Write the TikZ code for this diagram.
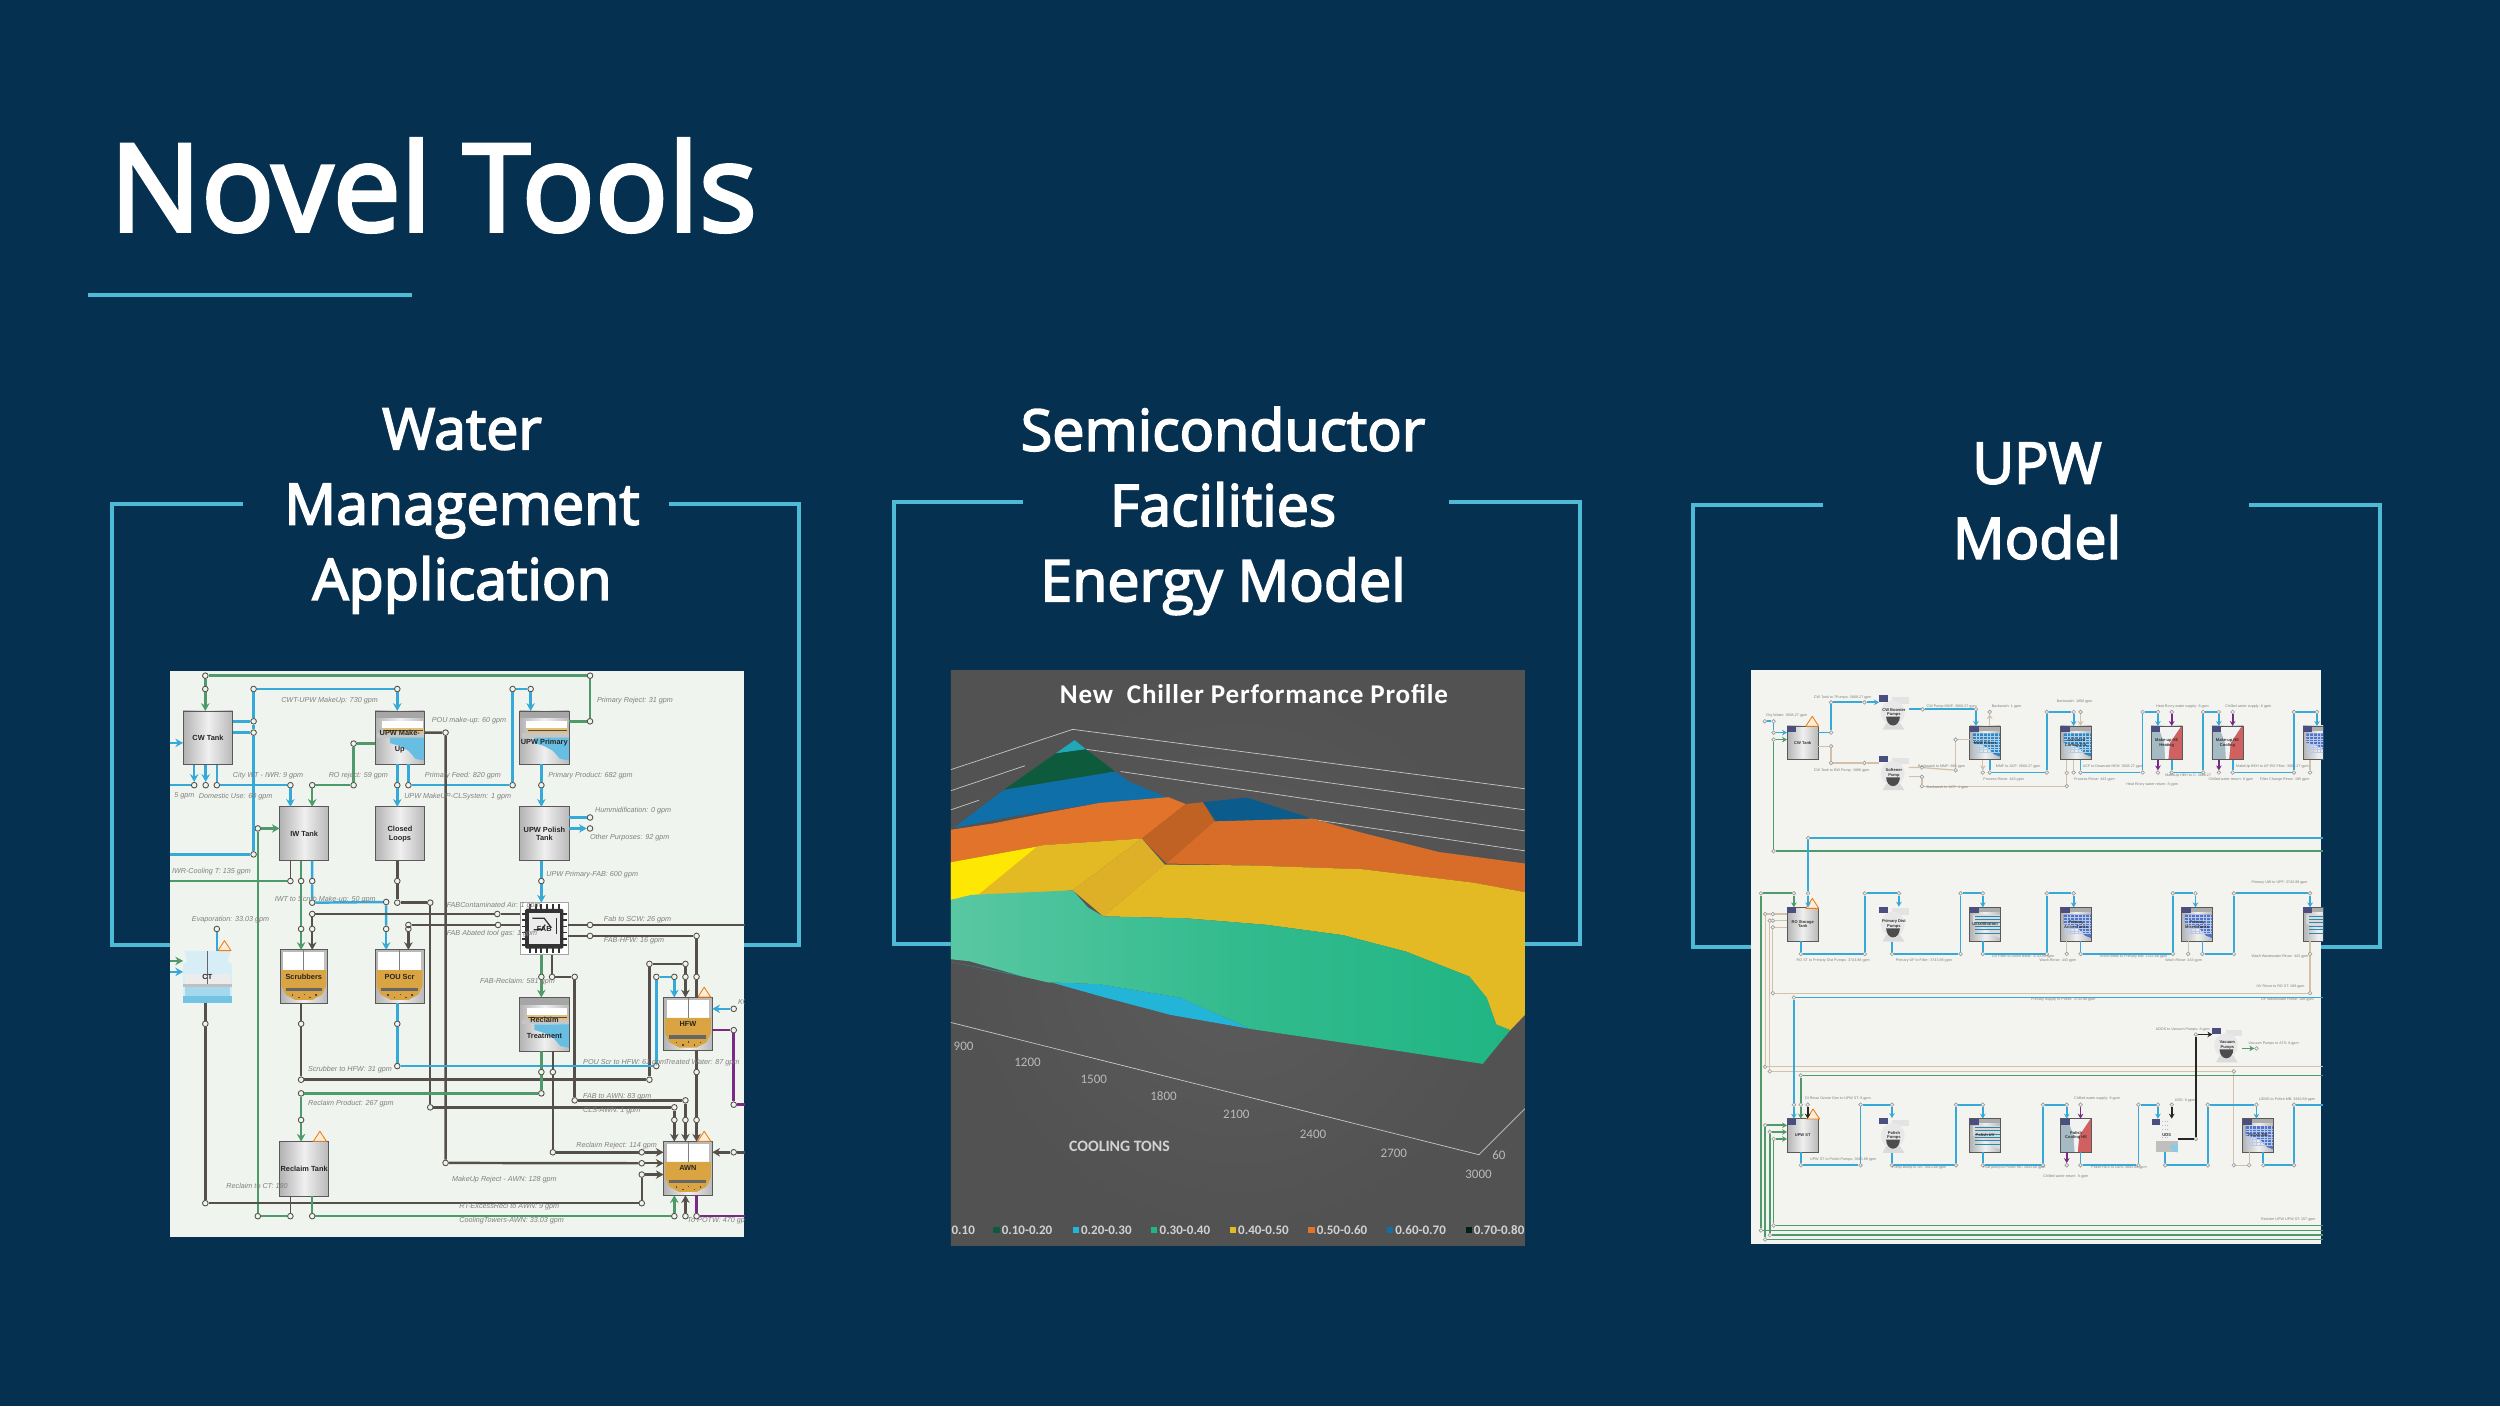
\documentclass[tikz,border=0pt]{standalone}
\usepackage{fontspec}
\usetikzlibrary{arrows.meta,calc}
\setmainfont{Open Sans}
\newfontfamily\headfont{Open Sans}[FakeBold=3]
\newfontfamily\lblfont{Liberation Sans}
\newfontfamily\chartfont{Carlito}
\newfontfamily\charttitlefont{Carlito}[LetterSpace=3]
\definecolor{slideBg}{HTML}{06304F}
\definecolor{frameCol}{HTML}{4FBAD6}
\definecolor{sheetA}{HTML}{F0F4EE}
\definecolor{sheetC}{HTML}{F3F4EF}
\definecolor{pipeBlue}{HTML}{35A9D8}
\definecolor{pipeGreen}{HTML}{4F9A6A}
\definecolor{pipeDark}{HTML}{55504A}
\definecolor{pipeTan}{HTML}{D4BFA8}
\definecolor{pipePurple}{HTML}{7A2A86}
\definecolor{sludge}{HTML}{D9A441}
\definecolor{tagCol}{HTML}{4B4F80}
\definecolor{gridBlue}{HTML}{2F86C4}
\definecolor{gridIndigo}{HTML}{4F74C8}
\definecolor{chTeal}{HTML}{1FA8B8}
\definecolor{chDeep}{HTML}{0E5A3C}
\definecolor{chBlue}{HTML}{0F6FA8}
\definecolor{chNavy}{HTML}{0B5C8C}
\definecolor{chOrange}{HTML}{E2732A}
\definecolor{chYellow}{HTML}{E3B924}
\definecolor{chGreen}{HTML}{21B584}
\definecolor{chCyan}{HTML}{22B5D8}
\tikzset{
  frameln/.style={line width=1.2pt, frameCol},
  ruleln/.style={line width=1.4pt, frameCol},
  heading/.style={white, font=\headfont\fontsize{16.3}{21.4}\selectfont, align=center},
  pblue/.style={draw=pipeBlue},
  pgreen/.style={draw=pipeGreen},
  pdark/.style={draw=pipeDark},
  ppurple/.style={draw=pipePurple},
  ptan/.style={draw=pipeTan, line width=0.35pt},
  pblack/.style={draw=black!85},
  arr/.style={-{Stealth[length=2.2pt,width=2.4pt]}},
  arrsm/.style={-{Stealth[length=1.4pt,width=1.6pt]}},
  portA/.style={circle, draw=pipeDark, fill=sheetA, line width=0.25pt, minimum size=1.6pt, inner sep=0pt},
  portC/.style={circle, draw=gray!80, fill=sheetC, line width=0.18pt, minimum size=1.05pt, inner sep=0pt},
  lblA/.style={anchor=west, inner sep=0pt, text=black!50, font=\lblfont\itshape\fontsize{2.05}{2.4}\selectfont},
  lblC/.style={anchor=west, inner sep=0pt, text=black!50, font=\lblfont\fontsize{1.05}{1.3}\selectfont},
  tankbody/.style={left color=gray!60, right color=gray!55, middle color=gray!12},
  chipbody/.style={fill=white},
  bare/.style={},
  tankedge/.style={draw=gray!70!black, line width=0.25pt},
  nameA/.style={inner sep=0pt, outer sep=0pt, align=center, text=black!85, font=\lblfont\bfseries\fontsize{2.1}{2.5}\selectfont},
  nameC/.style={inner sep=0pt, outer sep=0pt, align=center, text=black!80, font=\lblfont\bfseries\fontsize{1.15}{1.4}\selectfont},
  warn/.style={draw=orange!70!brown, fill=orange!15, line width=0.25pt, line join=round},
  axislbl/.style={text=gray!55, font=\chartfont\fontsize{3.7}{4.4}\selectfont},
  legendlbl/.style={anchor=west, inner sep=0pt, text=gray!35, font=\chartfont\bfseries\fontsize{3.7}{4.2}\selectfont},
  wall/.style={gray!45,line width=0.2pt},
}
% body, decoration in a 0..100 box, then the named node with the text on top
\newcommand{\tanknode}[8]{%
  \pgfmathsetmacro\boxw{(#4-#2)}%
  \pgfmathsetmacro\boxh{(#5-#3)}%
  \path[#6] (#2,#3) rectangle (#4,#5);
  \begin{scope}[shift={(#2,#3)},xscale=\boxw/100,yscale=\boxh/100]#7\end{scope}
  \pgfmathsetmacro\boxw{(#4-#2)*\ux}%
  \pgfmathsetmacro\boxh{(#5-#3)*\uy}%
  \node[tanklbl, minimum width=\boxw cm, minimum height=\boxh cm] (#1) at ({(#2+#4)/2},{(#3+#5)/2}) {#8};
}
\newcommand{\ux}{0.003827}
\newcommand{\uy}{0.003333}
\newcommand{\decEdge}{\draw[tankedge] (0,0) rectangle (100,100);}
\newcommand{\decMembrane}{
  \fill[gray!70] (0,0) rectangle (100,14);
  \fill[white] (14,19) rectangle (96,32);
  \fill[sludge!70] (16,32) rectangle (98,42);
  \fill[gray!60!black] (18,36) rectangle (96,38);
  \fill[gray!45] (4,42) rectangle (100,50);
  \fill[pipeBlue!75] (30,50) -- (100,50) -- (100,93) -- (82,90) -- (68,75) -- (50,66) -- (30,60) -- cycle;
  \decEdge
}
\newcommand{\decSump}{
  \fill[gray!55] (0,0) rectangle (100,4);
  \fill[white] (7,4) rectangle (93,38);
  \draw[gray,line width=0.2pt] (50,0) -- (50,38);
  \fill[sludge] (3,38) -- (97,38) -- (97,68) -- (88,84) -- (68,94) -- (32,94) -- (12,84) -- (3,68) -- cycle;
  \fill[black!60] (12,71) rectangle (88,77);
  \foreach \a/\b in {25/83,38/88,50/82,62/88,74/83} \fill[black!70] (\a,\b) rectangle +(3,3);
  \decEdge
}
\newcommand{\decTower}{
  \fill[pipeBlue!20] (3,0) -- (97,0) -- (92,22) -- (100,25) -- (100,100) -- (0,100) -- (0,25) -- (8,22) -- cycle;
  \fill[white!85!gray] (3,45) rectangle (97,65);
  \fill[gray!50] (0,65) rectangle (100,70);
  \fill[pipeBlue!45] (3,70) rectangle (97,88);
  \fill[pipeBlue!70] (0,88) rectangle (100,100);
  \draw[gray!80!black,line width=0.2pt] (50,0) -- (50,65);
}
\newcommand{\decChip}{
  \fill[black!80,rounded corners=0.4pt] (10,12) rectangle (90,88);
  \foreach \a in {18,30,42,54,66,78} {
    \fill[black!80] (\a,3) rectangle (\a+4,14);
    \fill[black!80] (\a,86) rectangle (\a+4,97);
  }
  \foreach \b in {20,32,44,56,68,80} {
    \fill[black!80] (3,\b) rectangle (12,\b+3);
    \fill[black!80] (88,\b) rectangle (97,\b+3);
  }
  \fill[white!85!gray] (18,20) rectangle (82,80);
  \draw[black!80,line width=0.35pt] (25,30) -- (50,30) -- (65,48);
  \draw[black!80,line width=0.35pt] (28,52) -- (45,52) -- (52,42);
  \draw[black!80,line width=0.35pt] (75,30) -- (75,60);
  \draw[gray!70,line width=0.3pt] (0,0) rectangle (100,100);
}
\newcommand{\dectag}{\fill[tagCol] (0,0) rectangle (30,18);}
\newcommand{\decPlainC}{\decEdge\dectag}
\newcommand{\decFilter}[1]{
  \fill[gray!65] (0,0) rectangle (100,14);
  \fill[#1] (10,22) -- (100,22) -- (100,92) -- (78,84) -- (60,66) -- (35,55) -- (10,50) -- cycle;
  \foreach \a in {20,32,44,56,68,80,92} \draw[white!60!#1,line width=0.12pt] (\a,22) -- (\a,80);
  \foreach \b in {30,38,46,54,62,70,78} \draw[white!60!#1,line width=0.12pt] (10,\b) -- (100,\b);
  \decEdge\dectag
}
\newcommand{\decStripes}{
  \fill[gray!65] (0,0) rectangle (100,14);
  \fill[gray!30] (10,22) -- (100,22) -- (100,92) -- (78,84) -- (60,66) -- (35,55) -- (10,50) -- cycle;
  \foreach \b in {26,36,46,56,66,78} \draw[pipeBlue!80!black,line width=0.25pt] (18,\b) -- (100,\b);
  \decEdge\dectag
}
\newcommand{\decHeat}{
  \fill[pipeBlue!30!gray!60] (0,0) rectangle (100,100);
  \fill[red!55!gray!80] (55,100) -- (60,50) -- (96,0) -- (100,0) -- (100,100) -- cycle;
  \fill[white!90!gray] (22,0) -- (96,0) -- (60,50) -- (55,100) -- (45,100) -- (42,50) -- cycle;
  \decEdge\dectag
}
\newcommand{\decPump}{
  \fill[gray!22] (45,5) rectangle (100,24);
  \fill[gray!18] (46,50) ellipse [x radius=40,y radius=36];
  \fill[gray!28] (25,80) -- (70,80) -- (85,100) -- (12,100) -- cycle;
  \fill[black!70] (24,62) arc[start angle=180,end angle=0,x radius=23,y radius=26] -- cycle;
  \dectag
}
\newcommand{\decUV}{
  \fill[gray!10] (20,0) rectangle (65,62);
  \foreach \a in {28,40,52} \foreach \b in {8,20,32,44,56} \fill[gray!55] (\a,\b) rectangle +(3,2);
  \fill[gray!50] (0,65) rectangle (100,100);
  \fill[pipeBlue!60] (62,78) -- (100,78) -- (100,100) -- (80,98) -- cycle;
  \fill[tagCol] (-18,0) rectangle (18,18);
}
\newcommand{\warnsign}[2]{%
  \draw[warn,shift={(#1,#2)}] (-17,15) -- (0,-15) -- (17,15) -- cycle;
}
\begin{document}
\begin{tikzpicture}[x=0.01cm,y=-0.01cm]
  \useasboundingbox (0,0) rectangle (2500,1406);
  \fill[slideBg] (0,0) rectangle (2500,1406);
  % title and its rule
  \node[anchor=base west, inner sep=0pt, white, font=\headfont\fontsize{34.5}{40}\selectfont] (title) at (109,231) {Novel Tools};
  \coordinate (ruleL) at (88,295);
  \coordinate (ruleR) at (412,295);
  \draw[ruleln] (ruleL) -- (ruleR);
  % headings
  \node[heading] (headA) at (462,511) {Water\\Management\\Application};
  \node[heading] (headB) at (1223,511) {Semiconductor\\Facilities\\Energy Model};
  \node[heading] (headC) at (2037,501) {UPW\\Model};
  % brackets behind the pictures
  \draw[frameln] (243,504) -| (112,945) -| (799,504) -- (669,504);
  \draw[frameln] (1023,502) -| (894,944) -| (1580,502) -- (1449,502);
  \draw[frameln] (1823,505) -| (1693,947) -| (2380,505) -- (2249,505);

  % ---------- water management flowsheet ----------
  \fill[sheetA] (170,671) rectangle (744,1237);
  \begin{scope}[shift={(1.6cm,-6.6cm)},x=0.003827cm,y=-0.003333cm,line width=0.7pt,tanklbl/.style={nameA}]
    \clip (26,30) rectangle (1526,1732);
    \coordinate (edgeL) at (26,0);
    \coordinate (edgeR) at (1526,0);
    % tanks
    \tanknode{cwtank}{60}{152}{190}{314}{tankbody}{\decEdge}{CW Tank}
    \tanknode{upwmake}{561}{152}{690}{312}{tankbody}{\decMembrane}{\raisebox{-3.9pt}[0pt][0pt]{\shortstack{UPW Make-\\Up}}}
    \tanknode{upwprim}{938}{152}{1067}{312}{tankbody}{\decMembrane}{\raisebox{-2pt}[0pt][0pt]{UPW Primary}}
    \tanknode{iwtank}{312}{440}{440}{602}{tankbody}{\decEdge}{IW Tank}
    \tanknode{closedl}{561}{440}{691}{602}{tankbody}{\decEdge}{Closed\\Loops}
    \tanknode{polish}{938}{440}{1068}{602}{tankbody}{\decEdge}{UPW Polish\\Tank}
    \tanknode{fab}{940}{728}{1065}{885}{chipbody}{\decChip}{FAB}
    \tanknode{ct}{60}{873}{187}{1028}{bare}{\decTower}{CT}
    \tanknode{scrub}{313}{870}{437}{1030}{tankbody}{\decSump}{Scrubbers}
    \tanknode{pouscr}{561}{870}{689}{1030}{tankbody}{\decSump}{POU Scr}
    \tanknode{reclaimt}{938}{1013}{1068}{1175}{tankbody}{\decMembrane}{\raisebox{-3.9pt}[0pt][0pt]{\shortstack{Reclaim\\Treatment}}}
    \tanknode{hfw}{1314}{1013}{1441}{1173}{tankbody}{\decSump}{HFW}
    \tanknode{awn}{1314}{1446}{1441}{1607}{tankbody}{\decSump}{AWN}
    \tanknode{rectank}{312}{1446}{440}{1610}{tankbody}{\decEdge}{Reclaim Tank}
    \warnsign{168}{857}
    \warnsign{417}{1430}
    \warnsign{1420}{997}
    \warnsign{1420}{1430}
    % ports
    \foreach \x/\y in {118/46,1122/46,118/86,244/86,619/86,244/183,244/217,244/583,1122/183,
      89/375,119/375,148/375,340/375,397/375,505/375,505/250,619/375,648/375,920/375,920/86,967/86,
      995/375,745/217,745/1510,1122/472,1122/505,995/663,340/663,368/663,397/663,619/663,619/728,
      705/728,397/728,590/726,368/807,397/807,590/807,648/807,397/762,880/762,648/795,882/795,
      1122/795,1122/828,1400/828,255/505,255/1670,340/1670,148/807,118/1092,118/1631,1257/1631,
      1257/1545,368/1092,368/1260,1277/1260,1277/912,1371/912,1371/951,1342/951,1400/951,619/1092,
      619/1219,1295/1219,1295/951,995/951,1023/951,1082/951,1082/1322,1371/1322,1371/1381,995/1237,
      995/1301,368/1301,368/1381,1025/1237,1025/1478,1257/1478,1257/1511,705/1343,1342/1343,1342/1381,
      1400/1237,1400/1381,397/1670,1342/1670,1371/1670,1400/1670,1497/1111,1497/1335,1497/1047,1497/1478}
      \node[portA] (p\x x\y) at (\x,\y) {};
    % cw tank
    \coordinate (cwin) at (26,248);
    \draw[pblue,arr] (cwin) -- (cwin -| cwtank.west);
    \draw[pgreen] (p118x46) -- (p1122x46) -- (p1122x183) -- (p1122x183 -| upwprim.east);
    \draw[pgreen] (p118x46) -- (p118x86);
    \draw[pgreen,arr] (p118x86) -- (p118x86 |- cwtank.north);
    \draw[pblue] (p244x86) -- (p619x86);
    \draw[pblue,arr] (p619x86) -- (p619x86 |- upwmake.north);
    \draw[pblue] (p244x86) -- (p244x183) -- (p244x217) -- (p244x583) -- (p244x583 -| edgeL);
    \draw[pblue] (p244x183 -| cwtank.east) -- (p244x183);
    \draw[pblue] (p244x217 -| cwtank.east) -- (p244x217);
    \draw[pblue] (p89x375 -| edgeL) -- (p89x375);
    \draw[pblue,arr] (p89x375 |- cwtank.south) -- (p89x375);
    \draw[pblue,arr] (p119x375 |- cwtank.south) -- (p119x375);
    \draw[pblue] (p148x375 |- cwtank.south) -- (p148x375) -- (p340x375);
    \draw[pblue,arr] (p340x375) -- (p340x375 |- iwtank.north);
    % make-up and primary
    \draw[pgreen,arr] (p397x375) -- (p397x375 |- iwtank.north);
    \draw[pgreen] (p397x375) -- (p505x375) -- (p505x250) -- (p505x250 -| upwmake.west);
    \draw[pblue] (p619x375 |- upwmake.south) -- (p619x375);
    \draw[pblue,arr] (p619x375) -- (p619x375 |- closedl.north);
    \draw[pblue] (p648x375 |- upwmake.south) -- (p648x375) -- (p920x375) -- (p920x86) -- (p967x86);
    \draw[pblue,arr] (p967x86) -- (p967x86 |- upwprim.north);
    \draw[pdark] (p745x217 -| upwmake.east) -- (p745x217) -- (p745x1510) -- (p1257x1511);
    \draw[pdark,arr] (p1257x1511) -- (p1257x1511 -| awn.west);
    \draw[pblue] (p995x375 |- upwprim.south) -- (p995x375);
    \draw[pblue,arr] (p995x375) -- (p995x375 |- polish.north);
    % polish
    \draw[pblue] (p1122x472 -| polish.east) -- (p1122x472);
    \draw[pblue,arr] (p1122x505 -| polish.east) -- (p1122x505);
    \draw[pblue] (p995x663 |- polish.south) -- (p995x663);
    \draw[pblue,arr] (p995x663) -- (p995x663 |- fab.north);
    % closed loops and iw tank
    \draw[pdark] (p619x663 |- closedl.south) -- (p619x663) -- (p619x728) -- (p705x728) -- (p705x1343) -- (p1342x1343) -- (p1342x1381);
    \draw[pdark,arr] (p1342x1381) -- (p1342x1381 |- awn.north);
    \draw[pdark,line width=0.3pt] (p340x663 |- iwtank.south) -- (p340x663);
    \draw[pgreen] (p340x663 -| edgeL) -- (p340x663);
    \draw[pgreen] (p368x663 |- iwtank.south) -- (p368x663) -- (p368x807);
    \draw[pgreen,arr] (p368x807) -- (p368x807 |- scrub.north);
    \draw[pblue] (p397x663 |- iwtank.south) -- (p397x663) -- (p397x728) -- (p590x726) -- (p590x807);
    \draw[pblue,arr] (p590x807) -- (p590x807 |- pouscr.north);
    % fab
    \draw[pdark] (p880x762 -| fab.west) -- (p880x762) -- (p397x762) -- (p397x807);
    \draw[pdark,arr] (p397x807) -- (p397x807 |- scrub.north);
    \draw[pdark] (p882x795 -| fab.west) -- (p882x795) -- (p648x795) -- (p648x807);
    \draw[pdark,arr] (p648x807) -- (p648x807 |- pouscr.north);
    \draw[pdark] (p1122x795 -| fab.east) -- (p1122x795) -- (p1122x795 -| edgeR);
    \draw[pdark] (p1122x828 -| fab.east) -- (p1122x828) -- (p1400x828) -- (p1400x951);
    \draw[pdark] (p1400x951) -- (p1400x951 |- hfw.north);
    \draw[pgreen] (p995x951 |- fab.south) -- (p995x951);
    \draw[pgreen,arr] (p995x951) -- (p995x951 |- reclaimt.north);
    \draw[pdark] (p1023x951 |- fab.south) -- (p1023x951) -- (p1082x951) -- (p1082x1322) -- (p1371x1322) -- (p1371x1381);
    \draw[pdark,arr] (p1371x1381) -- (p1371x1381 |- awn.north);
    % makeup feed to cooling tower and iw
    \draw[pgreen] (p255x505) -- (p255x1670) -- (p340x1670);
    \draw[pgreen,arr] (p255x505) -- (p255x505 -| iwtank.west);
    \draw[pdark,line width=0.3pt] (p340x1670) -- (p340x1670 |- rectank.south);
    \draw[pblue] (p148x807) -- (p148x807 |- ct.north);
    \coordinate (ctgin) at (26,903);
    \coordinate (ctbin) at (26,936);
    \draw[pgreen,arr] (ctgin) -- (ctgin -| ct.west);
    \draw[pblue,arr] (ctbin) -- (ctbin -| ct.west);
    % bottom of the sumps
    \draw[pdark] (p118x1092 |- ct.south) -- (p118x1092) -- (p118x1631) -- (p1257x1631) -- (p1257x1545);
    \draw[pdark,arr] (p1257x1545) -- (p1257x1545 -| awn.west);
    \draw[pdark] (p368x1092 |- scrub.south) -- (p368x1092) -- (p368x1260) -- (p1277x1260) -- (p1277x912) -- (p1371x912) -- (p1371x951);
    \draw[pdark,arr] (p1371x951) -- (p1371x951 |- hfw.north);
    \draw[pblue] (p619x1092 |- pouscr.south) -- (p619x1092) -- (p619x1219) -- (p1295x1219) -- (p1295x951) -- (p1342x951);
    \draw[pblue,arr] (p1342x951) -- (p1342x951 |- hfw.north);
    % reclaim
    \draw[pgreen] (p995x1237 |- reclaimt.south) -- (p995x1237) -- (p995x1301) -- (p368x1301) -- (p368x1381);
    \draw[pgreen,arr] (p368x1381) -- (p368x1381 |- rectank.north);
    \draw[pdark] (p1025x1237 |- reclaimt.south) -- (p1025x1237) -- (p1025x1478) -- (p1257x1478);
    \draw[pdark,arr] (p1257x1478) -- (p1257x1478 -| awn.west);
    \draw[pgreen] (p397x1670 |- rectank.south) -- (p397x1670) -- (p1342x1670);
    \draw[pgreen,arr] (p1342x1670) -- (p1342x1670 |- awn.south);
    % hfw and awn
    \draw[pdark] (p1400x1237 |- hfw.south) -- (p1400x1237) -- (p1400x1381);
    \draw[pdark,arr] (p1400x1381) -- (p1400x1381 |- awn.north);
    \draw[pdark,arr] (p1371x1670) -- (p1371x1670 |- awn.south);
    \draw[ppurple] (p1400x1670 |- awn.south) -- (p1400x1670) -- (p1400x1670 -| edgeR);
    \draw[ppurple] (p1497x1111 -| hfw.east) -- (p1497x1111) -- (p1497x1335) -- (p1497x1335 -| edgeR);
    \draw[pblue,arr] (p1497x1047) -- (p1497x1047 -| hfw.east);
    \draw[pdark] (p1497x1478 -| edgeR) -- (p1497x1478);
    \draw[pdark,arr] (p1497x1478) -- (p1497x1478 -| awn.east);
    % labels
    \foreach \x/\y/\txt [count=\i] in {313/120/{CWT-UPW MakeUp: 730 gpm},1137/120/{Primary Reject: 31 gpm},
      706/182/{POU make-up: 60 gpm},187/347/{City WT - IWR: 9 gpm},437/347/{RO reject: 59 gpm},
      688/347/{Primary Feed: 820 gpm},1010/347/{Primary Product: 682 gpm},98/408/{Domestic Use: 60 gpm},
      34/408/{5 gpm},634/408/{UPW MakeUP-CLSystem: 1 gpm},1132/452/{Hummidification: 0 gpm},
      1119/533/{Other Purposes: 92 gpm},28/635/{IWR-Cooling T: 135 gpm},1005/643/{UPW Primary-FAB: 600 gpm},
      296/718/{IWT to Scrub Make-up: 50 gpm},745/738/{FABContaminated Air: 1 gpm},80/778/{Evaporation: 33.03 gpm},
      1155/778/{Fab to SCW: 26 gpm},745/820/{FAB Abated tool gas: 1 gpm},1155/842/{FAB-HFW: 16 gpm},
      832/965/{FAB-Reclaim: 581 gpm},1101/1210/{POU Scr to HFW: 61 gpm},1315/1210/{Treated Water: 87 gpm},
      383/1230/{Scrubber to HFW: 31 gpm},1101/1311/{FAB to AWN: 83 gpm},383/1333/{Reclaim Product: 267 gpm},
      1101/1354/{CLS-AWN: 1 gpm},1083/1457/{Reclaim Reject: 114 gpm},759/1559/{MakeUp Reject - AWN: 128 gpm},
      170/1580/{Reclaim to CT: 180},778/1642/{RT-ExcessRecl to AWN: 9 gpm},778/1683/{CoolingTowers-AWN: 33.03 gpm},
      1373/1683/{To POTW: 470 gpm},1505/1027/{KC}}
      \node[lblA] (lbla\i) at (\x,\y) {\txt};
  \end{scope}

  % ---------- chiller chart ----------
  \begin{scope}[shift={(9.4cm,-6.6cm)},x=0.003827cm,y=-0.003827cm]
    \clip (27,27) rectangle (1525,1528);
    \shade[inner color=gray!72!black, outer color=black!68] (27,27) rectangle (1525,1528);
    % back wall grid
    \draw[wall] (27,285) -- (345,180) -- (1525,335);
    \draw[wall] (27,340) -- (220,275);
    \draw[wall] (27,390) -- (100,365);
    \draw[wall] (380,232) -- (1525,390);
    \draw[wall] (470,290) -- (1525,445);
    \draw[wall] (700,375) -- (1525,497);
    % surface bands
    \fill[chTeal] (300,243) -- (350,208) -- (380,232) -- cycle;
    \fill[chDeep] (165,338) -- (300,243) -- (380,232) -- (455,290) -- cycle;
    \fill[chBlue] (35,437) -- (165,338) -- (455,290) -- (495,318) -- (590,357) -- (415,372) -- (200,405) -- cycle;
    \fill[chOrange] (27,442) -- (140,425) -- (280,397) -- (415,372) -- (595,357) -- (640,375) -- (525,465) -- (270,482) -- (27,527) -- cycle;
    \fill[chOrange!85!black] (525,465) -- (640,375) -- (685,370) -- (715,420) -- (590,530) -- cycle;
    \fill[chNavy] (685,370) -- (800,358) -- (970,413) -- (720,420) -- cycle;
    \fill[chOrange!95!black] (715,420) -- (970,413) -- (1100,450) -- (1300,500) -- (1525,530) -- (1525,605) -- (1390,580) -- (1100,545) -- (800,535) -- (590,530) -- cycle;
    \fill[chYellow] (27,527) -- (270,482) -- (525,465) -- (345,600) -- (27,625) -- cycle;
    \fill[yellow!90!orange] (27,527) -- (250,487) -- (100,610) -- (27,625) -- cycle;
    \fill[chYellow!85!brown] (525,465) -- (585,533) -- (425,668) -- (345,600) -- cycle;
    \fill[chYellow] (585,533) -- (800,535) -- (1100,545) -- (1390,580) -- (1525,605) -- (1525,925) -- (1487,965) -- (1450,950) -- (1425,880) -- (1380,825) -- (1215,760) -- (1050,717) -- (850,690) -- (640,673) -- (425,668) -- cycle;
    \fill[chCyan] (27,787) -- (215,825) -- (280,840) -- (415,845) -- (625,880) -- (810,962) -- (600,925) -- (430,880) -- (270,835) -- cycle;
    \shade[left color=chGreen!75!white, right color=chGreen, middle color=chGreen!92!white] (27,625) -- (80,612) -- (345,600) -- (385,645) -- (425,668) -- (640,673) -- (850,690) -- (1050,717) -- (1215,760) -- (1380,825) -- (1425,880) -- (1450,950) -- (1487,965) -- (1415,1053) -- (1200,1020) -- (810,962) -- (625,880) -- (415,845) -- (280,840) -- (215,825) -- (75,785) -- (27,780) -- cycle;
    % floor axis
    \draw[wall] (27,945) -- (1405,1290) -- (1525,1170);
    \foreach \x/\y/\txt [count=\i] in {60/1008/900,227/1050/1200,400/1093/1500,582/1138/1800,772/1185/2100,972/1236/2400,1183/1287/2700,1404/1341/3000,1457/1290/60}
      \node[axislbl] (tick\i) at (\x,\y) {\txt};
    \node[text=gray!35, font=\chartfont\bfseries\fontsize{4.5}{5}\selectfont] (coolingtons) at (467,1268) {COOLING TONS};
    \node[white, font=\charttitlefont\bfseries\fontsize{7.7}{8.4}\selectfont] (charttitle) at (818,88) {New\ \ Chiller Performance Profile};
    % legend
    \node[legendlbl] (leg0) at (27,1486) {0.10};
    \foreach \x/\c/\txt [count=\i] in {138/chDeep/0.10-0.20,345/chCyan/0.20-0.30,550/chGreen/0.30-0.40,755/chYellow/0.40-0.50,960/chOrange/0.50-0.60,1165/chBlue/0.60-0.70,1370/black!65!chDeep/0.70-0.80} {
      \fill[\c] (\x,1478) rectangle +(16,16);
      \node[legendlbl] (leg\i) at (\x+20,1486) {\txt};
    }
  \end{scope}

  % ---------- upw flowsheet ----------
  \fill[sheetC] (1751,670) rectangle (2321,1244);
  \begin{scope}[shift={(17.4cm,-6.6cm)},x=0.003827cm,y=-0.003333cm,line width=0.5pt,tanklbl/.style={nameC}]
    \clip (29,30) rectangle (1519,1753);
    \coordinate (edgeR) at (1519,0);
    % first row
    \tanknode{cwst}{120}{197}{202}{298}{tankbody}{\decPlainC}{CW Tank}
    \tanknode{pumpa}{360}{105}{438}{208}{bare}{\decPump}{CW Booster\\Pumps}
    \tanknode{pumpb}{360}{288}{438}{390}{bare}{\decPump}{Softener\\Pump}
    \tanknode{mmf}{597}{197}{677}{298}{tankbody}{\decFilter{gridBlue}}{MMF Filters}
    \tanknode{acf}{834}{197}{915}{298}{tankbody}{\decFilter{gridBlue}}{Activated\\Carbon Filt.}
    \tanknode{heha}{1070}{197}{1152}{298}{tankbody}{\decHeat}{Make-up HE\\Heating}
    \tanknode{hehb}{1229}{197}{1310}{298}{tankbody}{\decHeat}{Make-up HE\\Cooling}
    \tanknode{ufa}{1467}{197}{1548}{298}{tankbody}{\decFilter{gridIndigo}}{}
    % second row
    \tanknode{rost}{120}{742}{202}{843}{tankbody}{\decPlainC}{RO Storage\\Tank}
    \tanknode{pumpc}{360}{740}{438}{845}{bare}{\decPump}{Primary Dist\\Pumps}
    \tanknode{ufb}{597}{742}{677}{843}{tankbody}{\decStripes}{Ultrafiltration}
    \tanknode{anion}{834}{742}{915}{843}{tankbody}{\decFilter{gridIndigo}}{Primary\\Anion Tanks}
    \tanknode{mixed}{1150}{742}{1231}{843}{tankbody}{\decFilter{gridIndigo}}{Primary\\Mixed Tanks}
    \tanknode{polf}{1467}{742}{1548}{843}{tankbody}{\decStripes}{}
    % third row
    \tanknode{upwst}{120}{1377}{202}{1478}{tankbody}{\decPlainC}{UPW ST}
    \tanknode{pumpd}{360}{1375}{438}{1480}{bare}{\decPump}{Polish\\Pumps}
    \tanknode{uvf}{597}{1377}{677}{1478}{tankbody}{\decStripes}{Polish UV}
    \tanknode{heho}{834}{1377}{915}{1478}{tankbody}{\decHeat}{Polish\\Cooling HE}
    \tanknode{uds}{1082}{1377}{1140}{1478}{bare}{\decUV}{UDS}
    \tanknode{pmb}{1309}{1377}{1390}{1478}{tankbody}{\decFilter{gridIndigo}}{Polish MB}
    \tanknode{vacpump}{1230}{1105}{1308}{1208}{bare}{\decPump}{Vacuum\\Pumps}
    \warnsign{186}{183}
    \warnsign{186}{730}
    \warnsign{188}{1363}
    % ports
    \foreach \x/\y in {62/183,85/183,85/217,85/238,85/573,235/217,235/126,322/126,235/258,235/308,322/308,
      474/147,613/147,649/155,472/322,472/350,472/378,850/378,850/338,560/238,560/330,
      631/337,649/337,798/337,798/155,868/155,886/155,868/337,886/337,1048/337,1048/155,1088/155,1124/155,
      1088/337,1124/337,1206/337,1206/155,1247/155,1283/155,1247/337,1283/337,1443/337,1443/155,1503/155,1485/337,
      175/534,175/700,52/700,138/700,156/882,323/882,323/700,412/700,394/882,573/882,573/700,631/700,631/882,
      798/882,798/700,868/700,850/882,886/882,1127/882,1127/700,1186/700,1167/882,1204/882,1286/882,1286/700,
      1485/700,1485/882,63/762,83/762,75/782,83/782,83/802,83/1000,1485/1000,63/1221,75/1235,1286/1235,1286/1517,
      1326/1517,156/1247,138/1013,138/1335,156/1335,174/1335,156/1517,312/1517,312/1335,394/1335,394/1517,561/1517,
      561/1335,631/1335,631/1517,788/1517,788/1335,850/1335,886/1335,850/1517,886/1517,1037/1517,1037/1335,1088/1335,
      1124/1335,1107/1517,1218/1517,1218/1335,1345/1335,1363/1517,1443/1517,1443/1335,1187/1438,1187/1124,1345/1166,
      63/1397,75/1417,85/1438,63/1740,75/1727,85/1698,52/1713}
      \node[portC] (p\x x\y) at (\x,\y) {};
    % first row pipes
    \draw[pblue] (p62x183) -- (p85x183) -- (p85x217);
    \draw[pblue,arrsm] (p85x217) -- (p85x217 -| cwst.west);
    \draw[pgreen,arrsm] (p85x238) -- (p85x238 -| cwst.west);
    \draw[pgreen] (p85x238) -- (p85x573) -- (p85x573 -| edgeR);
    \draw[pblue] (p235x217 -| cwst.east) -- (p235x217) -- (p235x126) -- (p322x126);
    \draw[pblue,arrsm] (p322x126) -- (p322x126 -| pumpa.west);
    \draw[ptan] (p235x258 -| cwst.east) -- (p235x258) -- (p235x308) -- (p322x308) -- (p322x308 -| pumpb.west);
    \draw[pblue] (p474x147 -| pumpa.east) -- (p474x147) -- (p613x147);
    \draw[pblue,arrsm] (p613x147) -- (p613x147 |- mmf.north);
    \draw[ptan,arrsm] (p649x155 |- mmf.north) -- (p649x155);
    \draw[ptan] (p560x238 -| mmf.west) -- (p560x238) -- (p560x330);
    \draw[ptan] (p472x322 -| pumpb.east) -- (p472x322) -- (p560x330);
    \draw[ptan] (p472x350 -| pumpb.east) -- (p472x350) -- (p472x378) -- (p850x378) -- (p850x338);
    \draw[ptan] (p850x338) -- (p850x338 |- acf.south);
    \draw[ptan,arrsm] (p631x337 |- mmf.south) -- (p631x337);
    \draw[pblue] (p649x337 |- mmf.south) -- (p649x337) -- (p798x337) -- (p798x155) -- (p868x155);
    \draw[pblue,arrsm] (p868x155) -- (p868x155 |- acf.north);
    \draw[ptan,arrsm] (p886x155) -- (p886x155 |- acf.north);
    \draw[ptan] (p868x337 |- acf.south) -- (p868x337);
    \draw[pblue] (p886x337 |- acf.south) -- (p886x337) -- (p1048x337) -- (p1048x155) -- (p1088x155);
    \draw[pblue,arrsm] (p1088x155) -- (p1088x155 |- heha.north);
    \draw[ppurple,arrsm] (p1124x155) -- (p1124x155 |- heha.north);
    \draw[ppurple,arrsm] (p1088x337 |- heha.south) -- (p1088x337);
    \draw[pblue] (p1124x337 |- heha.south) -- (p1124x337) -- (p1206x337) -- (p1206x155) -- (p1247x155);
    \draw[pblue,arrsm] (p1247x155) -- (p1247x155 |- hehb.north);
    \draw[ppurple,arrsm] (p1283x155) -- (p1283x155 |- hehb.north);
    \draw[ppurple,arrsm] (p1247x337 |- hehb.south) -- (p1247x337);
    \draw[pblue] (p1283x337 |- hehb.south) -- (p1283x337) -- (p1443x337) -- (p1443x155) -- (p1503x155);
    \draw[pblue,arrsm] (p1503x155) -- (p1503x155 |- ufa.north);
    \draw[ptan] (p1485x337 |- ufa.south) -- (p1485x337);
    % second row pipes
    \draw[pblue] (p175x534 -| edgeR) -- (p175x534) -- (p175x700);
    \draw[pblue,arrsm] (p175x700) -- (p175x700 |- rost.north);
    \draw[pgreen] (p138x700) -- (p52x700) -- (p52x1713) -- (p52x1713 -| edgeR);
    \draw[pgreen,arrsm] (p138x700) -- (p138x700 |- rost.north);
    \draw[pblue] (p156x882 |- rost.south) -- (p156x882) -- (p323x882) -- (p323x700) -- (p412x700);
    \draw[pblue,arrsm] (p412x700) -- (p412x700 |- pumpc.north);
    \draw[pblue] (p394x882 |- pumpc.south) -- (p394x882) -- (p573x882) -- (p573x700) -- (p631x700);
    \draw[pblue,arrsm] (p631x700) -- (p631x700 |- ufb.north);
    \draw[pblue] (p631x882 |- ufb.south) -- (p631x882) -- (p798x882) -- (p798x700) -- (p868x700);
    \draw[pblue,arrsm] (p868x700) -- (p868x700 |- anion.north);
    \draw[ptan] (p850x882 |- anion.south) -- (p850x882);
    \draw[pblue] (p886x882 |- anion.south) -- (p886x882) -- (p1127x882) -- (p1127x700) -- (p1186x700);
    \draw[pblue,arrsm] (p1186x700) -- (p1186x700 |- mixed.north);
    \draw[ptan] (p1167x882 |- mixed.south) -- (p1167x882);
    \draw[pblue] (p1204x882 |- mixed.south) -- (p1204x882) -- (p1286x882) -- (p1286x700) -- (p1485x700);
    \draw[pblue,arrsm] (p1485x700) -- (p1485x700 |- polf.north);
    % returns to the ro tank
    \draw[ptan] (p83x762 -| rost.west) -- (p83x762) -- (p63x762) -- (p63x1221) -- (p63x1221 -| edgeR);
    \draw[ptan] (p83x782 -| rost.west) -- (p83x782) -- (p75x782) -- (p75x1235) -- (p1286x1235);
    \draw[ptan] (p83x802 -| rost.west) -- (p83x802) -- (p83x1000) -- (p1485x1000) -- (p1485x882);
    \draw[ptan] (p1485x882 |- polf.south) -- (p1485x882);
    \draw[ptan] (p1286x1235) -- (p1286x1517) -- (p1326x1517) -- (p1326x1517 |- pmb.south);
    % third row pipes
    \draw[pblue] (p138x1013 -| edgeR) -- (p138x1013) -- (p138x1335);
    \draw[pblue,arrsm] (p138x1335) -- (p138x1335 |- upwst.north);
    \draw[pgreen] (p156x1247 -| edgeR) -- (p156x1247) -- (p156x1335);
    \draw[pgreen,arrsm] (p156x1335) -- (p156x1335 |- upwst.north);
    \draw[pblack,arrsm] (p174x1335) -- (p174x1335 |- upwst.north);
    \draw[pblue] (p156x1517 |- upwst.south) -- (p156x1517) -- (p312x1517) -- (p312x1335) -- (p394x1335);
    \draw[pblue,arrsm] (p394x1335) -- (p394x1335 |- pumpd.north);
    \draw[pblue] (p394x1517 |- pumpd.south) -- (p394x1517) -- (p561x1517) -- (p561x1335) -- (p631x1335);
    \draw[pblue,arrsm] (p631x1335) -- (p631x1335 |- uvf.north);
    \draw[pblue] (p631x1517 |- uvf.south) -- (p631x1517) -- (p788x1517) -- (p788x1335) -- (p850x1335);
    \draw[pblue,arrsm] (p850x1335) -- (p850x1335 |- heho.north);
    \draw[ppurple,arrsm] (p886x1335) -- (p886x1335 |- heho.north);
    \draw[ppurple,arrsm] (p850x1517 |- heho.south) -- (p850x1517);
    \draw[pblue] (p886x1517 |- heho.south) -- (p886x1517) -- (p1037x1517) -- (p1037x1335) -- (p1088x1335);
    \draw[pblue,arrsm] (p1088x1335) -- (p1088x1335 |- uds.north);
    \draw[pblack,arrsm] (p1124x1335) -- (p1124x1335 |- uds.north);
    \draw[pblue] (p1107x1517 |- uds.south) -- (p1107x1517) -- (p1218x1517) -- (p1218x1335) -- (p1345x1335);
    \draw[pblue,arrsm] (p1345x1335) -- (p1345x1335 |- pmb.north);
    \draw[pblue] (p1363x1517 |- pmb.south) -- (p1363x1517) -- (p1443x1517) -- (p1443x1335) -- (p1443x1335 -| edgeR);
    \draw[pblack] (p1187x1438 -| uds.east) -- (p1187x1438) -- (p1187x1124);
    \draw[pblack,arrsm] (p1187x1124) -- (p1187x1124 -| vacpump.west);
    \draw[pgreen,arrsm] (p1345x1166 -| vacpump.east) -- (p1345x1166);
    % green manifold
    \draw[pgreen,arrsm] (p63x1397) -- (p63x1397 -| upwst.west);
    \draw[pgreen,arrsm] (p75x1417) -- (p75x1417 -| upwst.west);
    \draw[pgreen,arrsm] (p85x1438) -- (p85x1438 -| upwst.west);
    \draw[pgreen] (p63x1397) -- (p63x1740) -- (p63x1740 -| edgeR);
    \draw[pgreen] (p75x1417) -- (p75x1727) -- (p75x1727 -| edgeR);
    \draw[pgreen] (p85x1438) -- (p85x1698) -- (p85x1698 -| edgeR);
    % labels
    \foreach \x/\y/\txt [count=\i] in {63/165/{City Water: 3668.27 gpm},188/113/{CW Tank to ?Pumps: 3668.27 gpm},
      482/138/{CW Pump-MMF: 3668.27 gpm},652/138/{Backwash: 1 gpm},822/124/{Backwash: 1886 gpm},
      1081/138/{Heat Rcvry water supply: 8 gpm},1262/138/{Chilled water supply: 8 gpm},188/331/{CW Tank to BW Pump: 1886 gpm},
      460/320/{Backwash to MMF: 886 gpm},482/382/{Backwash to ACF: 1 gpm},663/319/{MMF to ACF: 3668.27 gpm},
      630/357/{Process Rinse: 443 gpm},890/319/{ACF to Deaerate HEH: 3668.27 gpm},867/357/{Process Rinse: 443 gpm},
      1003/372/{Heat Rcvry water return: 8 gpm},1105/345/{MakeUp HEH to C: 3668.27},1218/357/{Chilled water return: 8 gpm},
      1352/357/{Filter Change Rinse: 185 gpm},1290/319/{MakeUp HEH to UF-RO Filter: 3668.27 gpm},1330/668/{Primary UW to UPF: 3743.88 gpm},
      143/902/{RO ST to Primary Dist Pumps: 3743.88 gpm},402/902/{Primary UF to Filter: 3743.88 gpm},653/890/{UV Filter to Anion Beds: 3743.88 gpm},
      777/902/{Wash Rinse: 443 gpm},935/890/{Anion Beds to Primary MB: 3743.88 gpm},1105/902/{Wash Rinse: 443 gpm},
      1330/890/{Wash Wastewater Rinse: 443 gpm},1343/980/{UV Rinse to RO ST: 188 gpm},755/1020/{Primary Supply to Polish: 3743.88 gpm},
      1355/1020/{UF Wastewater Rinse: 188 gpm},1080/1110/{UDDS to Vacuum Pumps: 8 gpm},1322/1150/{Vacuum Pumps to ATS: 8 gpm},
      165/1317/{DI Rinse Ozone Gen to UPW ST: 8 gpm},867/1318/{Chilled water supply: 8 gpm},1130/1322/{UDS: 8 gpm},
      1350/1321/{UDDS to Polish MB: 3843.88 gpm},178/1500/{UPW ST to Polish Pumps: 3843.88 gpm},392/1525/{Pump Bump to UV: 3843.88 gpm},
      630/1525/{FAB pump to Polish HE: 3843.88 gpm},912/1525/{Polish HEX to UDS: 3843.88 gpm},787/1551/{Chilled water return: 8 gpm},
      1355/1681/{Reclaim UPW UPW ST: 157 gpm}}
      \node[lblC] (lblc\i) at (\x,\y) {\txt};
  \end{scope}
\end{tikzpicture}
\end{document}
